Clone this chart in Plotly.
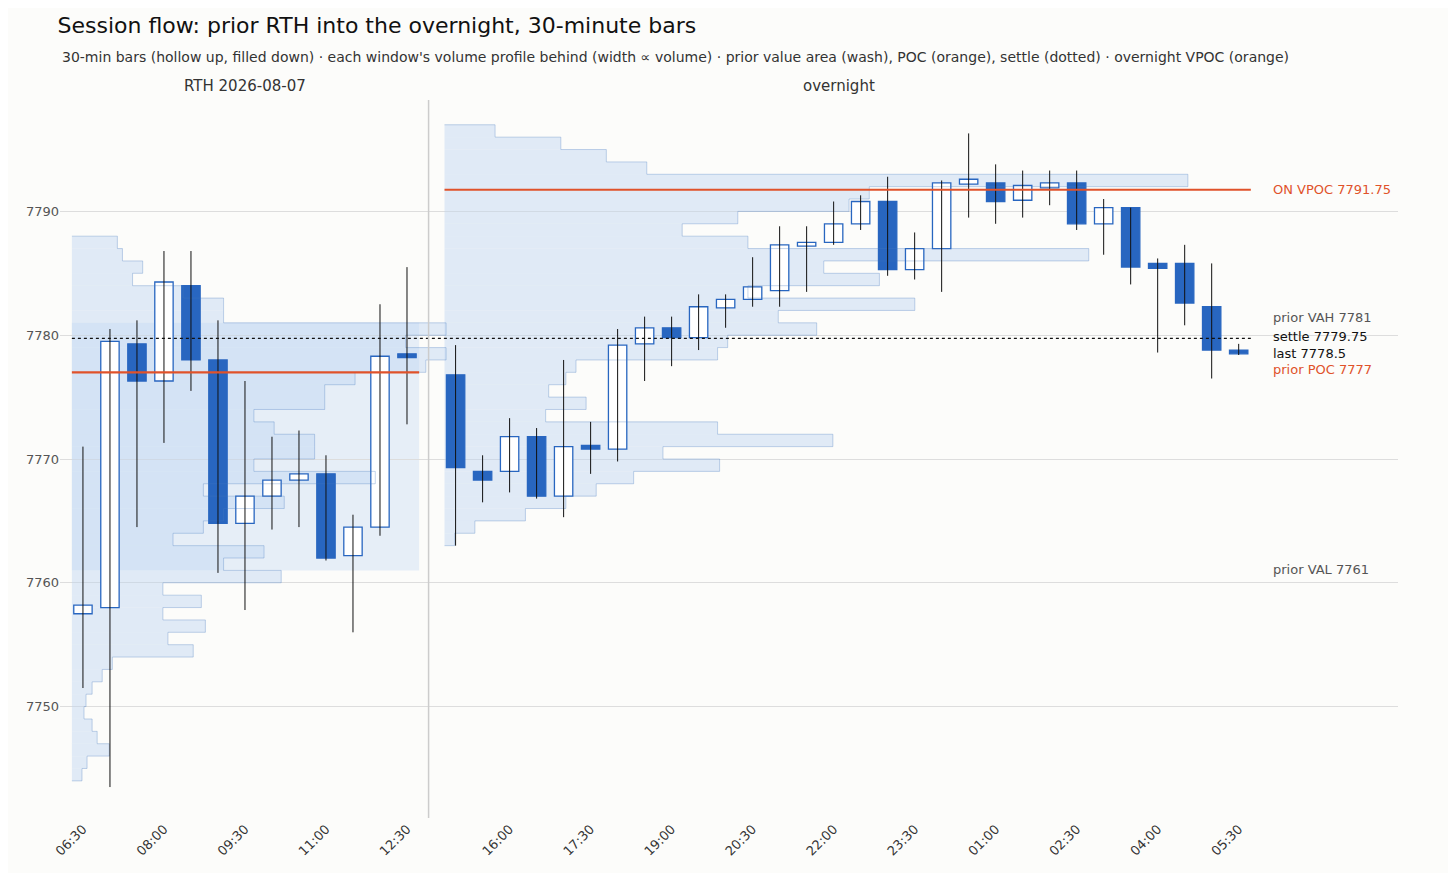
import plotly.graph_objects as go

# Dados (O, H, L, C)
RTH_TIMES = ['06:30', '07:00', '07:30', '08:00', '08:30', '09:00', '09:30', '10:00', '10:30',
             '11:00', '11:30', '12:00', '12:30']
RTH_BARS = [
    (7757.5, 7771.0, 7751.5, 7758.2), (7758.0, 7780.5, 7743.5, 7779.5), (7779.3, 7781.2, 7764.5, 7776.3),
    (7776.3, 7786.8, 7771.3, 7784.3), (7784.0, 7786.8, 7775.5, 7778.0), (7778.0, 7781.2, 7760.8, 7764.8),
    (7764.8, 7776.3, 7757.8, 7767.0), (7767.0, 7771.8, 7764.3, 7768.3), (7768.3, 7772.3, 7764.5, 7768.8),
    (7768.8, 7770.3, 7761.8, 7762.0), (7762.2, 7765.5, 7756.0, 7764.5), (7764.5, 7782.5, 7763.8, 7778.3),
    (7778.5, 7785.5, 7772.8, 7778.2),
]
ON_TIMES = ['15:00', '15:30', '16:00', '16:30', '17:00', '17:30', '18:00', '18:30', '19:00', '19:30',
            '20:00', '20:30', '21:00', '21:30', '22:00', '22:30', '23:00', '23:30', '00:00', '00:30',
            '01:00', '01:30', '02:00', '02:30', '03:00', '03:30', '04:00', '04:30', '05:00', '05:30']
ON_BARS = [
    (7776.8, 7779.2, 7763.0, 7769.3), (7769.0, 7770.3, 7766.5, 7768.3), (7769.0, 7773.3, 7767.3, 7771.8),
    (7771.8, 7772.5, 7766.8, 7767.0), (7767.0, 7778.0, 7765.3, 7771.0), (7771.0, 7773.0, 7768.8, 7770.8),
    (7770.8, 7780.5, 7769.8, 7779.2), (7779.3, 7781.5, 7776.3, 7780.6), (7780.6, 7781.5, 7777.5, 7779.8),
    (7779.8, 7783.3, 7778.8, 7782.3), (7782.2, 7783.3, 7780.6, 7782.9), (7782.9, 7786.3, 7782.3, 7783.9),
    (7783.6, 7788.8, 7782.3, 7787.3), (7787.2, 7788.8, 7783.5, 7787.5), (7787.5, 7790.8, 7787.3, 7789.0),
    (7789.0, 7791.3, 7788.5, 7790.8), (7790.8, 7792.8, 7784.8, 7785.3), (7785.3, 7788.3, 7784.5, 7787.0),
    (7787.0, 7792.5, 7783.5, 7792.3), (7792.2, 7796.3, 7789.5, 7792.6), (7792.3, 7793.8, 7789.0, 7790.8),
    (7790.9, 7793.3, 7789.5, 7792.1), (7791.9, 7793.3, 7790.5, 7792.3), (7792.3, 7793.3, 7788.5, 7789.0),
    (7789.0, 7791.0, 7786.5, 7790.3), (7790.3, 7790.3, 7784.1, 7785.5), (7785.8, 7786.2, 7778.6, 7785.4),
    (7785.8, 7787.3, 7780.8, 7782.6), (7782.3, 7785.8, 7776.5, 7778.8), (7778.8, 7779.3, 7778.4, 7778.5),
]
# Perfis de volume: preço -> volume
RTH_PROFILE = {7744: 10, 7745: 15, 7746: 37, 7747: 25, 7748: 20, 7749: 12, 7750: 14, 7751: 20, 7752: 30,
               7753: 40, 7754: 120, 7755: 95, 7756: 132, 7757: 90, 7758: 128, 7759: 90, 7760: 207,
               7761: 150, 7762: 190, 7763: 100, 7764: 130, 7765: 150, 7766: 210, 7767: 130, 7768: 300,
               7769: 180, 7770: 240, 7771: 240, 7772: 200, 7773: 180, 7774: 250, 7775: 250, 7776: 280,
               7777: 350, 7778: 370, 7779: 330, 7780: 370, 7781: 150, 7782: 150, 7783: 110, 7784: 60,
               7785: 70, 7786: 50, 7787: 45}
ON_PROFILE = {7763: 10, 7764: 30, 7765: 80, 7766: 120, 7767: 150, 7768: 187, 7769: 272, 7770: 216,
              7771: 384, 7772: 270, 7773: 100, 7774: 140, 7775: 103, 7776: 120, 7777: 130, 7778: 270,
              7779: 280, 7780: 368, 7781: 330, 7782: 465, 7783: 300, 7784: 430, 7785: 375, 7786: 637,
              7787: 300, 7788: 235, 7789: 290, 7790: 400, 7791: 420, 7792: 735, 7793: 200, 7794: 160,
              7795: 115, 7796: 50}

BLUE = '#2866c0'
ORANGE = '#e0522a'
ON_START = 13.8
PX_PER_SLOT = 26.7


def add_profile(fig, profile, base):
    """Desenha o perfil de volume (faixas + contorno em degraus)."""
    prices = sorted(profile)
    widths = [profile[p] / PX_PER_SLOT for p in prices]
    fig.add_trace(go.Bar(y=[p + 0.5 for p in prices], x=widths, base=base, orientation='h', width=1.0,
                         marker=dict(color='rgba(190,212,242,0.45)', line=dict(width=0)), hoverinfo='skip'))
    xs, ys = [base], [prices[0]]
    for p, w in zip(prices, widths):
        xs += [base + w, base + w]
        ys += [p, p + 1]
    xs.append(base)
    ys.append(prices[-1] + 1)
    fig.add_trace(go.Scatter(x=xs, y=ys, mode='lines', line=dict(color='rgba(70,120,190,0.45)', width=0.7),
                             hoverinfo='skip'))


def add_candles(fig, xs, bars):
    """Corpos ocos (alta) ou cheios (baixa) e pavios pretos."""
    wx, wy = [], []
    for x, (o, h, l, c) in zip(xs, bars):
        wx += [x, x, None]
        wy += [l, h, None]
    fig.add_trace(go.Scatter(x=wx, y=wy, mode='lines', line=dict(color='#111', width=1), hoverinfo='skip'))
    fig.add_trace(go.Bar(x=xs, y=[max(abs(c - o), 0.3) for o, h, l, c in bars],
                         base=[min(o, c) for o, h, l, c in bars], width=0.68,
                         marker=dict(color=['white' if c > o else BLUE for o, h, l, c in bars],
                                     line=dict(color=BLUE, width=1.3))))


def build_figure():
    fig = go.Figure()
    rth_x = list(range(len(RTH_BARS)))
    on_x = [ON_START + i for i in range(len(ON_BARS))]

    fig.add_shape(type='rect', x0=-0.41, x1=12.45, y0=7761, y1=7781, fillcolor='rgba(190,212,242,0.35)',
                  line_width=0, layer='below')
    add_profile(fig, RTH_PROFILE, -0.41)
    add_profile(fig, ON_PROFILE, 13.39)
    add_candles(fig, rth_x, RTH_BARS)
    add_candles(fig, on_x, ON_BARS)

    end_x = on_x[-1] + 0.45
    fig.add_shape(type='line', x0=-0.41, x1=12.45, y0=7777, y1=7777, line=dict(color=ORANGE, width=2.2))
    fig.add_shape(type='line', x0=13.39, x1=end_x, y0=7791.75, y1=7791.75, line=dict(color=ORANGE, width=2.2))
    fig.add_shape(type='line', x0=-0.41, x1=end_x, y0=7779.75, y1=7779.75, line=dict(color='#111', width=1.2, dash='dot'))
    fig.add_shape(type='line', x0=12.8, x1=12.8, y0=0, y1=1, yref='paper', line=dict(color='#ccc', width=1.5))

    labels = [(7781.4, 'prior VAH 7781', '#555'), (7791.75, 'ON VPOC 7791.75', ORANGE),
              (7779.9, 'settle 7779.75', '#111'), (7778.5, 'last 7778.5', '#111'),
              (7777.2, 'prior POC 7777', ORANGE), (7761.1, 'prior VAL 7761', '#555')]
    for y, txt, col in labels:
        fig.add_annotation(x=44.0, y=y, text=txt, showarrow=False, xanchor='left', font=dict(size=13, color=col))
    fig.add_annotation(x=6.0, y=1.02, yref='paper', yanchor='middle', text='RTH 2026-08-07', showarrow=False,
                       font=dict(size=15, color='#333'))
    fig.add_annotation(x=28.0, y=1.02, yref='paper', yanchor='middle', text='overnight', showarrow=False,
                       font=dict(size=15, color='#333'))
    fig.add_annotation(x=0, xref='paper', xanchor='left', y=1.06, yref='paper', yanchor='middle', showarrow=False,
                       text="30-min bars (hollow up, filled down) · each window's volume profile behind (width ∝ volume)"
                            " · prior value area (wash), POC (orange), settle (dotted) · overnight VPOC (orange)",
                       font=dict(size=14, color='#333'))

    all_x = rth_x + on_x
    all_t = RTH_TIMES + ON_TIMES
    fig.update_layout(
        title=dict(text='Session flow: prior RTH into the overnight, 30-minute bars', x=0.034, xanchor='left',
                   y=0.98, yanchor='middle', font=dict(size=22, color='#111')),
        width=1456, height=873, margin=dict(l=52, r=66, t=92, b=63),
        paper_bgcolor='#fcfcfa', plot_bgcolor='#fcfcfa', showlegend=False, barmode='overlay',
        font=dict(family='DejaVu Sans', color='#333'),
        xaxis=dict(range=[-0.85, 48.7], tickvals=all_x[::3], ticktext=all_t[::3], tickangle=-45,
                   showgrid=False, zeroline=False, tickfont=dict(size=13)),
        yaxis=dict(range=[7741, 7799], tickvals=[7750, 7760, 7770, 7780, 7790], gridcolor='#ddd',
                   zeroline=False, tickfont=dict(size=13, color='#555')),
    )
    return fig


fig = build_figure()
fig.write_html("out.html")
